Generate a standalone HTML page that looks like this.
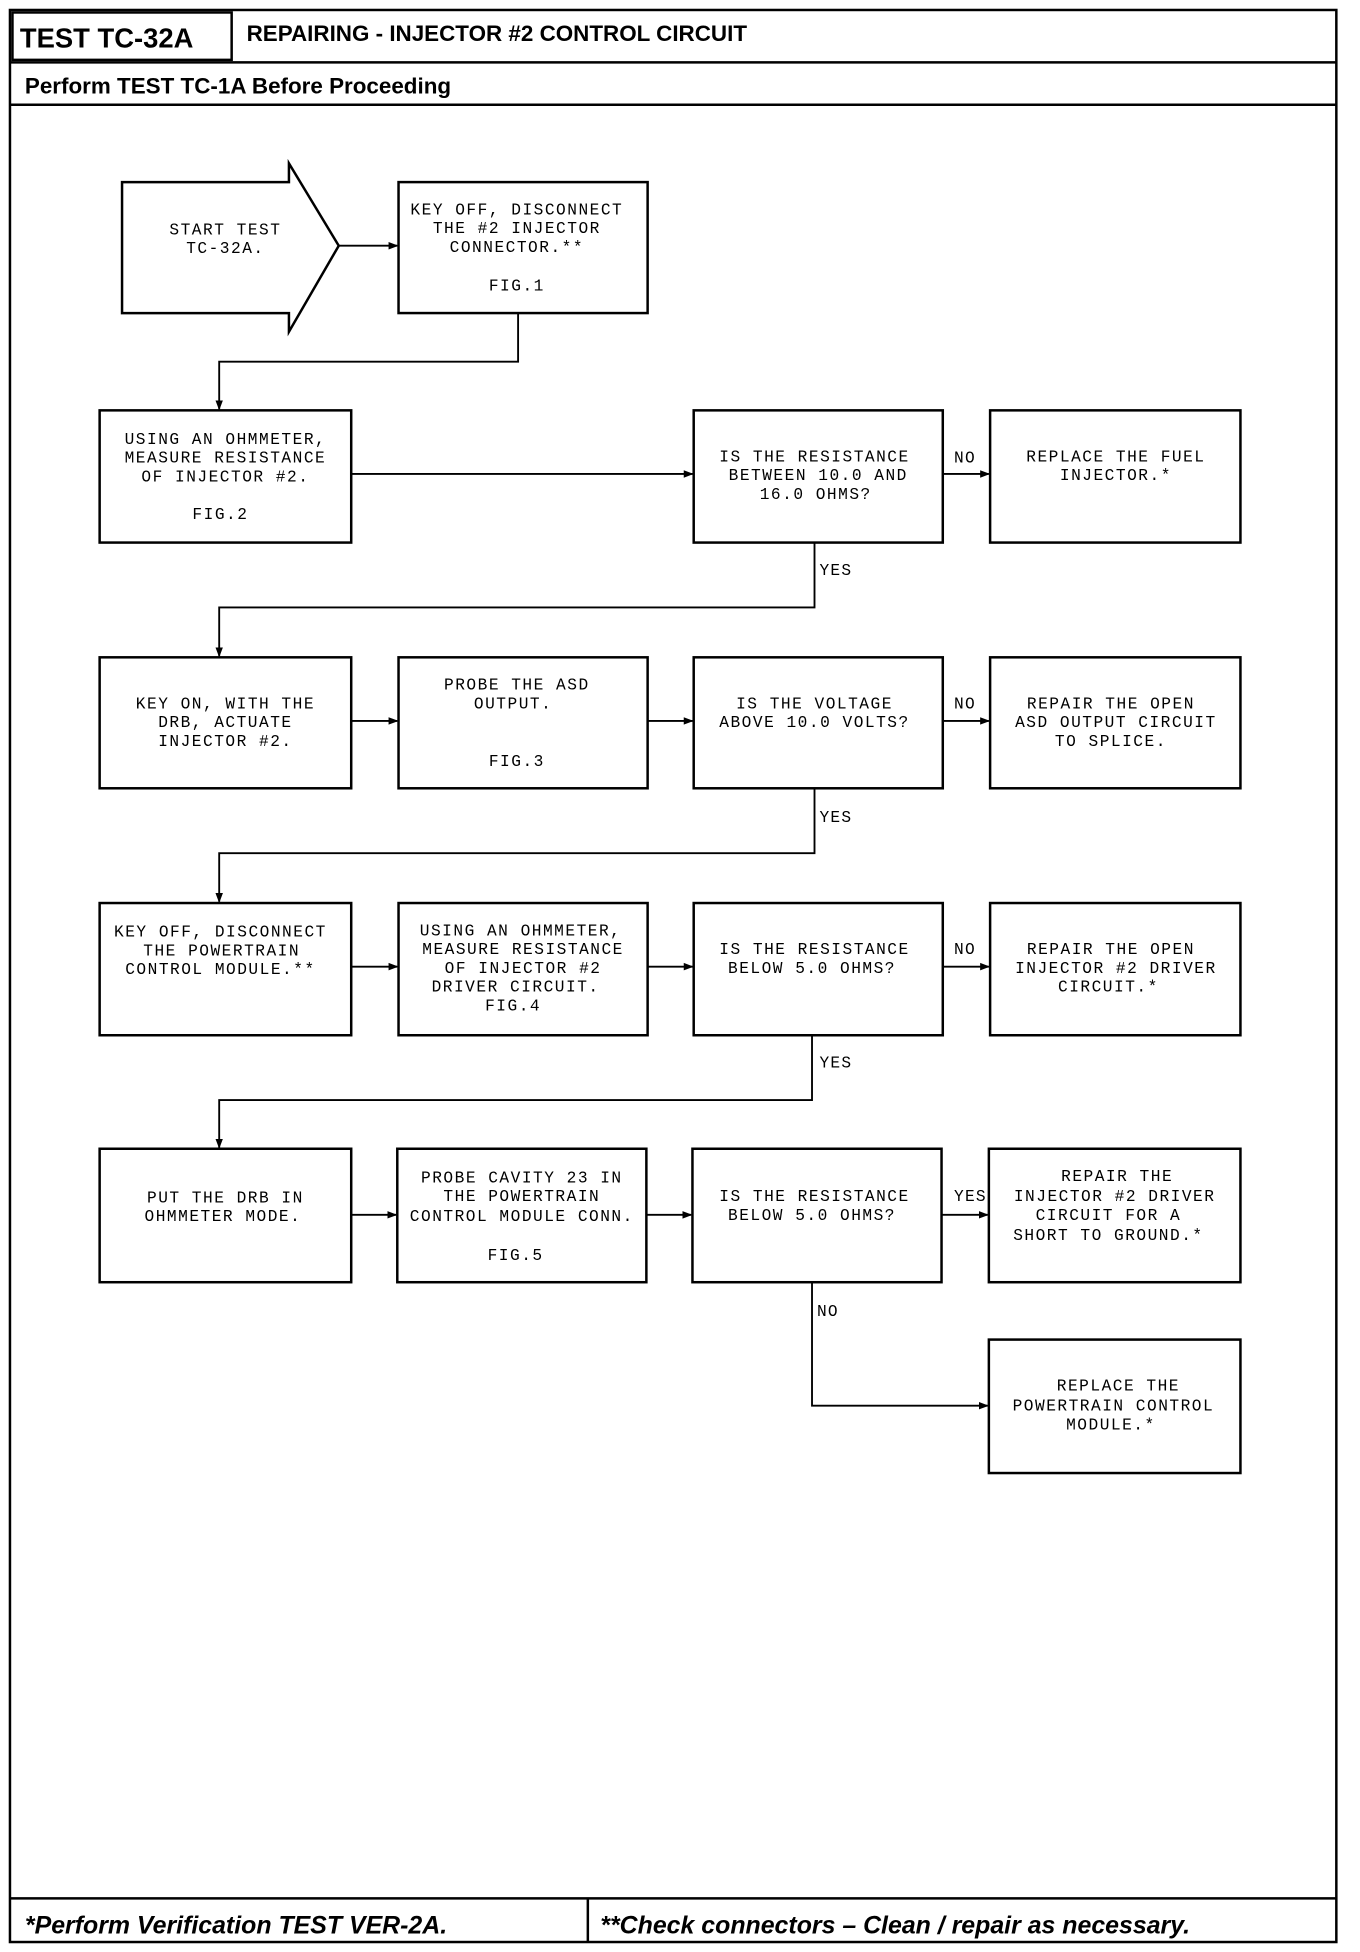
<!DOCTYPE html>
<html><head><meta charset="utf-8"><style>
html,body{margin:0;padding:0;background:#fff;}
svg{display:block;}
.m{font-family:"Liberation Mono",monospace;font-size:13px;letter-spacing:1.2px;fill:#000;text-anchor:middle;}
.l{font-family:"Liberation Mono",monospace;font-size:13px;letter-spacing:1px;fill:#000;}
.b{font-family:"Liberation Sans",sans-serif;font-weight:bold;fill:#000;}
</style></head><body>
<svg width="1360" height="1952" viewBox="0 0 1092 1565" preserveAspectRatio="none" xmlns="http://www.w3.org/2000/svg">
<defs><marker id="a" markerWidth="8" markerHeight="8" refX="7" refY="4" orient="auto" markerUnits="userSpaceOnUse"><path d="M0,1 L8,4 L0,7z" fill="#000"/></marker></defs>
<g fill="none" stroke="#000" stroke-width="2">
<rect x="8" y="8" width="1065" height="1549"/>
<rect x="10" y="10" width="176" height="38"/>
<line x1="8" y1="50" x2="1073" y2="50"/>
<line x1="8" y1="84" x2="1073" y2="84"/>
<line x1="8" y1="1522" x2="1073" y2="1522"/>
<line x1="472" y1="1522" x2="472" y2="1557"/>
<path d="M98,146 H232 V131 L272,197 L232,266 V251 H98 Z"/>
<rect x="320" y="146" width="200" height="105"/>
<rect x="80" y="329" width="202" height="106"/>
<rect x="557" y="329" width="200" height="106"/>
<rect x="795" y="329" width="201" height="106"/>
<rect x="80" y="527" width="202" height="105"/>
<rect x="320" y="527" width="200" height="105"/>
<rect x="557" y="527" width="200" height="105"/>
<rect x="795" y="527" width="201" height="105"/>
<rect x="80" y="724" width="202" height="106"/>
<rect x="320" y="724" width="200" height="106"/>
<rect x="557" y="724" width="200" height="106"/>
<rect x="795" y="724" width="201" height="106"/>
<rect x="80" y="921" width="202" height="107"/>
<rect x="319" y="921" width="200" height="107"/>
<rect x="556" y="921" width="200" height="107"/>
<rect x="794" y="921" width="202" height="107"/>
<rect x="794" y="1074" width="202" height="107"/>
</g>
<g fill="none" stroke="#000" stroke-width="1.5" marker-end="url(#a)">
<line x1="272" y1="197" x2="319" y2="197"/>
<path d="M416,251 V290 H176 V328"/>
<line x1="282" y1="380" x2="556" y2="380"/>
<line x1="757" y1="380" x2="794" y2="380"/>
<path d="M654,435 V487 H176 V526"/>
<line x1="282" y1="578" x2="319" y2="578"/>
<line x1="520" y1="578" x2="556" y2="578"/>
<line x1="757" y1="578" x2="794" y2="578"/>
<path d="M654,632 V684 H176 V723"/>
<line x1="282" y1="775" x2="319" y2="775"/>
<line x1="520" y1="775" x2="556" y2="775"/>
<line x1="757" y1="775" x2="794" y2="775"/>
<path d="M652,830 V882 H176 V920"/>
<line x1="282" y1="974" x2="318" y2="974"/>
<line x1="519" y1="974" x2="555" y2="974"/>
<line x1="756" y1="974" x2="793" y2="974"/>
<path d="M652,1028 V1127 H793"/>
</g>
<text class="b" x="16" y="38" font-size="22">TEST TC-32A</text>
<text class="b" x="198" y="33" font-size="18">REPAIRING - INJECTOR #2 CONTROL CIRCUIT</text>
<text class="b" x="20" y="75" font-size="18">Perform TEST TC-1A Before Proceeding</text>
<text class="b" x="20" y="1550" font-size="20" font-style="italic">*Perform Verification TEST VER-2A.</text>
<text class="b" x="482" y="1550" font-size="20" font-style="italic">**Check connectors – Clean / repair as necessary.</text>
<g class="m">
<text x="181" y="188">START TEST</text><text x="181" y="203">TC-32A.</text>
<text x="415" y="172">KEY OFF, DISCONNECT</text><text x="415" y="187">THE #2 INJECTOR</text><text x="415" y="202">CONNECTOR.**</text><text x="415" y="233">FIG.1</text>
<text x="181" y="356">USING AN OHMMETER,</text><text x="181" y="371">MEASURE RESISTANCE</text><text x="181" y="386">OF INJECTOR #2.</text><text x="177" y="416">FIG.2</text>
<text x="654" y="370">IS THE RESISTANCE</text><text x="657" y="385">BETWEEN 10.0 AND</text><text x="655" y="400">16.0 OHMS?</text>
<text x="896" y="370">REPLACE THE FUEL</text><text x="896" y="385">INJECTOR.*</text>
<text x="181" y="568">KEY ON, WITH THE</text><text x="181" y="583">DRB, ACTUATE</text><text x="181" y="598">INJECTOR #2.</text>
<text x="415" y="553">PROBE THE ASD</text><text x="412" y="568">OUTPUT.</text><text x="415" y="614">FIG.3</text>
<text x="654" y="568">IS THE VOLTAGE</text><text x="654" y="583">ABOVE 10.0 VOLTS?</text>
<text x="892" y="568">REPAIR THE OPEN</text><text x="896" y="583">ASD OUTPUT CIRCUIT</text><text x="892" y="598">TO SPLICE.</text>
<text x="177" y="751">KEY OFF, DISCONNECT</text><text x="178" y="766">THE POWERTRAIN</text><text x="177" y="781">CONTROL MODULE.**</text>
<text x="418" y="750">USING AN OHMMETER,</text><text x="420" y="765">MEASURE RESISTANCE</text><text x="420" y="780">OF INJECTOR #2</text><text x="414" y="795">DRIVER CIRCUIT.</text><text x="412" y="810">FIG.4</text>
<text x="654" y="765">IS THE RESISTANCE</text><text x="652" y="780">BELOW 5.0 OHMS?</text>
<text x="892" y="765">REPAIR THE OPEN</text><text x="896" y="780">INJECTOR #2 DRIVER</text><text x="890" y="795">CIRCUIT.*</text>
<text x="181" y="964">PUT THE DRB IN</text><text x="179" y="979">OHMMETER MODE.</text>
<text x="419" y="948">PROBE CAVITY 23 IN</text><text x="419" y="963">THE POWERTRAIN</text><text x="419" y="979">CONTROL MODULE CONN.</text><text x="414" y="1010">FIG.5</text>
<text x="654" y="963">IS THE RESISTANCE</text><text x="652" y="978">BELOW 5.0 OHMS?</text>
<text x="897" y="947">REPAIR THE</text><text x="895" y="963">INJECTOR #2 DRIVER</text><text x="890" y="978">CIRCUIT FOR A</text><text x="890" y="994">SHORT TO GROUND.*</text>
<text x="898" y="1115">REPLACE THE</text><text x="894" y="1131">POWERTRAIN CONTROL</text><text x="892" y="1146">MODULE.*</text>
</g>
<g class="l">
<text x="766" y="371">NO</text><text x="658" y="461">YES</text>
<text x="766" y="568">NO</text><text x="658" y="659">YES</text>
<text x="766" y="765">NO</text><text x="658" y="856">YES</text>
<text x="766" y="963">YES</text><text x="656" y="1055">NO</text>
</g>
</svg>
</body></html>
